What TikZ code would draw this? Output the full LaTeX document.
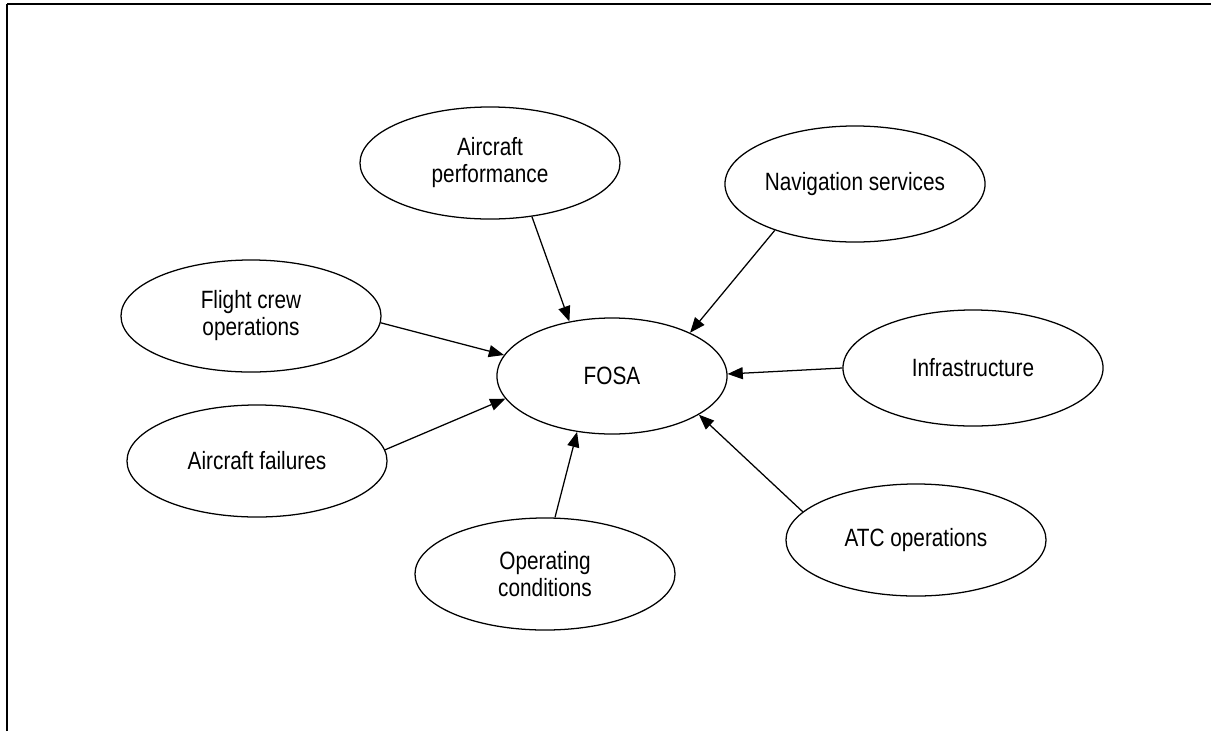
\documentclass[tikz,border=0pt]{standalone}
\usepackage{fontspec}
\setmainfont{Liberation Sans}[FakeStretch=0.83]
\usetikzlibrary{shapes.geometric,arrows.meta}
\begin{document}
\begin{tikzpicture}[x=0.025cm,y=-0.025cm,
    factor/.style={draw,ellipse,line width=.9pt,inner sep=0pt,
      minimum width=6.5cm,minimum height=2.8cm,align=center,
      font=\fontsize{17.8}{19.2}\selectfont},
    infl/.style={-{Triangle[length=.38cm,width=.3cm]},line width=.9pt}]
        \useasboundingbox (0,0) rectangle (1211,731);
        \draw[line width=.9pt] (7,731) -- (7,4);
        \draw[line width=1.4pt] (7,4) -- (1211,4);
        \node[factor,minimum width=5.75cm,minimum height=2.9cm] (fosa) at (612,376) {FOSA};
        \node[factor] (perf) at (490,163) {Aircraft\\performance};
        \node[factor,minimum height=2.9cm] (nav) at (855,184) {Navigation services};
        \node[factor] (crew) at (251,316) {Flight crew\\operations};
        \node[factor] (fail) at (257,461) {Aircraft failures};
        \node[factor,minimum height=2.9cm] (infra) at (973,368) {Infrastructure};
        \node[factor] (cond) at (545,574) {Operating\\conditions};
        \node[factor] (atc) at (916,540) {ATC operations};
        \draw[infl] (perf.-52) -- (fosa.128);
        \draw[infl] (nav.210) -- (fosa.29);
        \draw[infl] (crew.-3.5) -- (fosa.169);
        \draw[infl] (fail.5) -- (fosa.192);
        \draw[infl] (infra.180) -- (fosa.1);
        \draw[infl] (cond.80) -- (fosa.238);
        \draw[infl] (atc.166) -- (fosa.-24);
      \end{tikzpicture}
\end{document}
